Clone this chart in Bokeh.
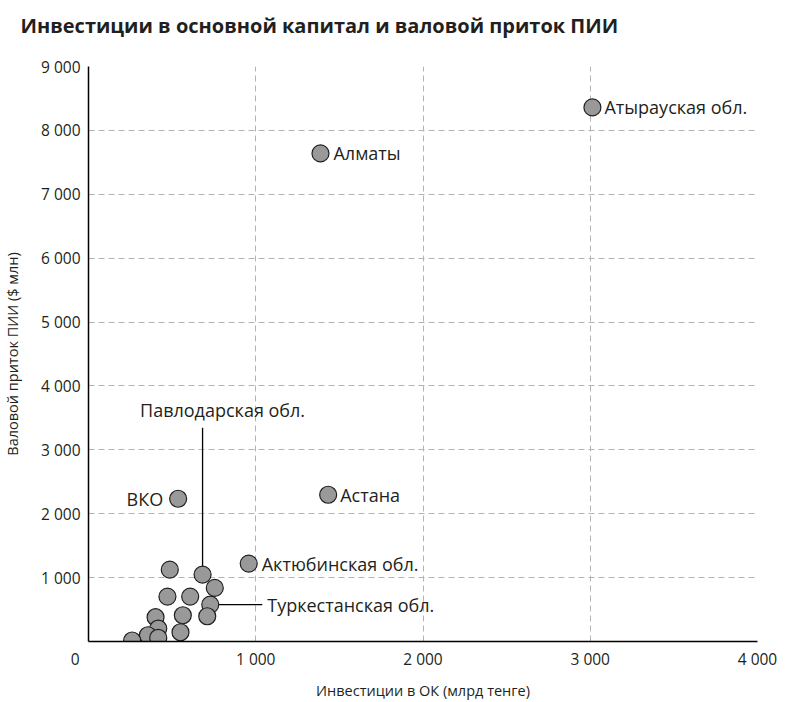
from bokeh.plotting import figure
from bokeh.models import Range1d, Label, FixedTicker, ColumnDataSource
from bokeh.embed import file_html
from bokeh.resources import INLINE

# ---- data ----
names = ["Атырауская обл.", "Алматы", "ВКО", "Астана", "Актюбинская обл.",
         "Павлодарская обл.", "Туркестанская обл.",
         "", "", "", "", "", "", "", "", "", "", "", ""]
invest_ok = [3013, 1387, 536, 1433, 958,
             682, 728,
             486, 755, 472, 608, 710, 564, 401, 417, 550, 355, 417, 261]
fdi_inflow = [8360, 7640, 2234, 2297, 1219,
              1047, 578,
              1125, 839, 703, 703, 395, 411, 380, 203, 145, 98, 58, 16]

x_ticks = [0, 1000, 2000, 3000, 4000]
x_tick_labels = ["0", "1 000", "2 000", "3 000", "4 000"]
y_ticks = [0, 1000, 2000, 3000, 4000, 5000, 6000, 7000, 8000, 9000]
y_tick_labels = ["", "1 000", "2 000", "3 000", "4 000", "5 000",
                 "6 000", "7 000", "8 000", "9 000"]

title_text = "Инвестиции в основной капитал и валовой приток ПИИ"
x_title = "Инвестиции в ОК (млрд тенге)"
y_title = "Валовой приток ПИИ ($ млн)"

FONT = "Open Sans"
INK = "#231f20"
FIG_SPACE = "\u2007"  # digit-wide space: shifts the shared origin "0" left of the corner

x_range = Range1d(0, 4000)
y_range = Range1d(0, 9000)
p = figure(width=785, height=702, x_range=x_range, y_range=y_range,
           output_backend="svg", toolbar_location=None,
           min_border_left=88, min_border_right=28, min_border_top=66, min_border_bottom=60)
p.outline_line_color = None
p.background_fill_color = "white"
p.border_fill_color = "white"

# title (an empty second line lifts the text higher above the frame)
p.title.text = title_text + "\n"
p.title.text_font = FONT
p.title.text_font_size = "20px"
p.title.text_font_style = "bold"
p.title.text_color = INK
p.title.align = "left"
p.title.vertical_align = "bottom"
p.title.offset = -68
p.title.standoff = 2

# grids
p.xgrid.ticker = FixedTicker(ticks=x_ticks[1:])
p.ygrid.ticker = FixedTicker(ticks=y_ticks[1:])
for g in (p.xgrid, p.ygrid):
    g.grid_line_color = "#b3b3b3"
    g.grid_line_dash = "6 4"
    g.grid_line_width = 1

# axes
xlabels = dict(zip(x_ticks, x_tick_labels))
xlabels[0] = xlabels[0] + FIG_SPACE * 3
p.xaxis.ticker = FixedTicker(ticks=x_ticks)
p.xaxis.major_label_overrides = xlabels
p.yaxis.ticker = FixedTicker(ticks=y_ticks)
p.yaxis.major_label_overrides = dict(zip(y_ticks, y_tick_labels))
p.xaxis.axis_label = x_title
p.yaxis.axis_label = y_title
for ax in (p.xaxis, p.yaxis):
    ax.axis_line_color = "black"
    ax.axis_line_width = 1.5
    ax.major_tick_in = 0
    ax.major_tick_out = 0
    ax.minor_tick_in = 0
    ax.minor_tick_out = 0
    ax.major_label_text_font = FONT
    ax.major_label_text_font_size = "15.5px"
    ax.major_label_text_color = INK
    ax.axis_label_text_font = FONT
    ax.axis_label_text_font_size = "14.5px"
    ax.axis_label_text_font_style = "normal"
    ax.axis_label_text_color = INK
p.xaxis.major_label_standoff = 6
p.xaxis.axis_label_standoff = 8
p.yaxis.major_label_standoff = 8
p.yaxis.axis_label_standoff = 16

# leader lines
i_pav = names.index("Павлодарская обл.")
i_tur = names.index("Туркестанская обл.")
p.segment(x0=[invest_ok[i_pav]], y0=[fdi_inflow[i_pav]],
          x1=[invest_ok[i_pav]], y1=[fdi_inflow[i_pav] + 2300],
          line_color="black", line_width=1.3)
p.segment(x0=[invest_ok[i_tur]], y0=[fdi_inflow[i_tur]],
          x1=[invest_ok[i_tur] + 311], y1=[fdi_inflow[i_tur]],
          line_color="black", line_width=1.3)

# points
src = ColumnDataSource(dict(x=invest_ok, y=fdi_inflow, name=names))
p.scatter("x", "y", source=src, size=17, fill_color="#999999",
          line_color=INK, line_width=1.2)

# point labels: (align, x_offset, y_offset)
placement = {
    "Атырауская обл.": ("left", 12, 0),
    "Алматы": ("left", 13, 0),
    "ВКО": ("right", -15, 0),
    "Астана": ("left", 12, 0),
    "Актюбинская обл.": ("left", 13, 0),
    "Павлодарская обл.": ("center", 20, 165),
    "Туркестанская обл.": ("left", 57, 0),
}
for nm, xv, yv in zip(names, invest_ok, fdi_inflow):
    if not nm:
        continue
    al, dx, dy = placement[nm]
    p.add_layout(Label(x=xv, y=yv, x_offset=dx, y_offset=dy, text=nm,
                       text_font=FONT, text_font_size="18px", text_color=INK,
                       text_align=al, text_baseline="middle"))

open("out.html", "w").write(file_html(p, INLINE))
